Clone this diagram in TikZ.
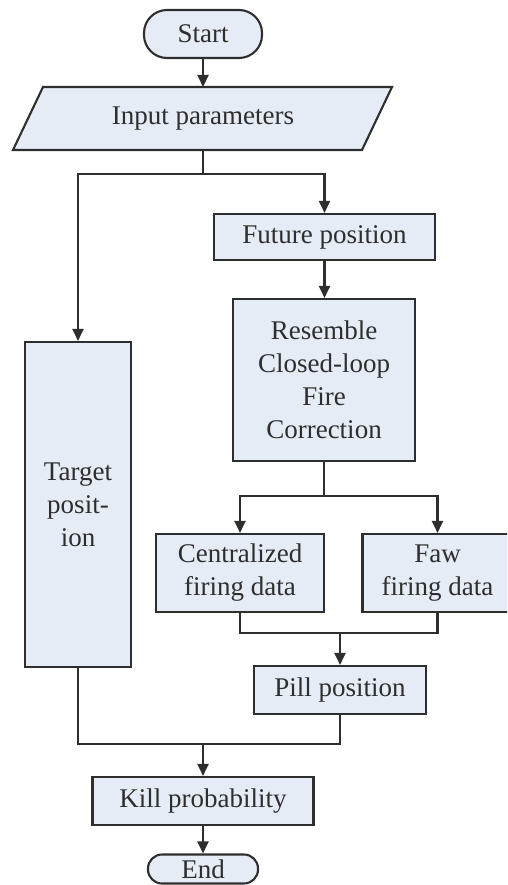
\documentclass[tikz,border=0pt]{standalone}
\usepackage{fontspec}
\setmainfont{Liberation Serif}
\usetikzlibrary{arrows.meta}
\definecolor{boxfill}{HTML}{E6ECF6}
\definecolor{ink}{HTML}{2E2E2E}
\begin{document}
\begin{tikzpicture}[x=1pt,y=-1pt,
  box/.style={draw=ink,fill=boxfill,line width=2.1pt,inner sep=0pt,align=center,text=ink,
    font=\fontsize{27}{33}\selectfont},
  term/.style={box,rounded corners=23pt},
  conn/.style={draw=ink,line width=2.1pt},
  arr/.style={conn,-{Triangle[length=12pt,width=11pt]}}]
\useasboundingbox (0,0) rectangle (507,885);
\clip (0,0) rectangle (507,885);
\node[term,minimum width=118pt,minimum height=48pt] (start) at (203,34) {Start};
\filldraw[draw=ink,fill=boxfill,line width=2.1pt] (13,150) -- (362,150) -- (392,87) -- (43,87) -- cycle;
\node[box,draw=none,fill=none,minimum width=349pt,minimum height=63pt] (inp) at (203,118.5) {Input parameters};
\node[box,minimum width=221pt,minimum height=46pt] (fut) at (324.5,237) {Future position};
\node[box,minimum width=182pt,minimum height=162pt] (res) at (324,380) {Resemble\\Closed-loop\\Fire\\Correction};
\node[box,minimum width=106pt,minimum height=325pt] (tgt) at (78,504.5) {Target\\posit-\\ion};
\node[box,minimum width=168pt,minimum height=78pt] (cen) at (240,573) {Centralized\\firing data};
\node[box,minimum width=150pt,minimum height=78pt] (faw) at (437.5,573) {Faw\\firing data};
\node[box,minimum width=172pt,minimum height=48pt] (pill) at (340,690) {Pill position};
\node[box,minimum width=221pt,minimum height=48pt] (kill) at (203,801) {Kill probability};
\node[box,rounded corners=14pt,minimum width=110pt,minimum height=29pt] (end) at (203,869) {End};
\coordinate (s1) at (203,174);
\coordinate (s2) at (324,496);
\coordinate (j1) at (340,633);
\coordinate (j2) at (203,744);
\draw[arr] (start.south) -- (start.south |- 0,87);
\draw[conn] (inp.south) -- (s1);
\draw[arr] (s1) -| (tgt.north);
\draw[arr] (s1) -| (fut.north);
\draw[arr] (fut.south) -- (fut.south |- res.north);
\draw[conn] (res.south) -- (s2);
\draw[arr] (s2) -| (cen.north);
\draw[arr] (s2) -| (faw.north);
\draw[conn] (cen.south) |- (j1);
\draw[conn] (faw.south) |- (j1);
\draw[arr] (j1) -- (pill.north);
\draw[conn] (tgt.south) |- (j2);
\draw[conn] (pill.south) |- (j2);
\draw[arr] (j2) -- (kill.north);
\draw[arr] (kill.south) -- (end.north);
\end{tikzpicture}
\end{document}
